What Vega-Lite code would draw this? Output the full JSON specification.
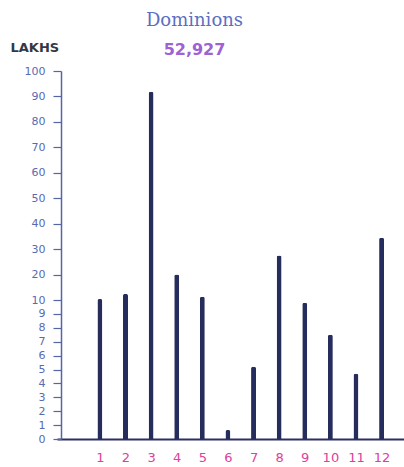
{
  "$schema": "https://vega.github.io/schema/vega-lite/v6.json",
  "autosize": "none",
  "width": 347,
  "height": 368,
  "padding": {"left": 57, "top": 71, "right": 0, "bottom": 28},
  "background": "#ffffff",
  "title": {
    "text": "Dominions",
    "subtitle": "52,927",
    "anchor": "middle",
    "dx": -36,
    "offset": -17,
    "font": "DejaVu Serif",
    "fontSize": 18,
    "fontWeight": "normal",
    "color": "#5b6fc2",
    "subtitleFont": "DejaVu Sans",
    "subtitleFontSize": 16,
    "subtitleFontWeight": "bold",
    "subtitleColor": "#9c62d6",
    "subtitlePadding": 12
  },
  "data": {
    "values": [
      {"n": 1, "v": 10.4},
      {"n": 2, "v": 12.4},
      {"n": 3, "v": 91.8},
      {"n": 4, "v": 20},
      {"n": 5, "v": 11.3},
      {"n": 6, "v": 0.65},
      {"n": 7, "v": 5.2},
      {"n": 8, "v": 27.5},
      {"n": 9, "v": 9.8},
      {"n": 10, "v": 7.5},
      {"n": 11, "v": 4.7},
      {"n": 12, "v": 34.5}
    ]
  },
  "mark": {"type": "bar", "width": 5, "color": "#262c5c", "cornerRadiusEnd": 2},
  "encoding": {
    "x": {
      "field": "n",
      "type": "quantitative",
      "scale": {"domain": [-0.48, 12.68], "nice": false, "zero": false},
      "axis": {
        "title": null,
        "values": [1,2,3,4,5,6,7,8,9,10,11,12],
        "format": "d",
        "ticks": false,
        "grid": false,
        "domainColor": "#2a3060",
        "domainWidth": 2,
        "labelColor": "#e0409c",
        "labelFontSize": 13,
        "labelFont": "DejaVu Sans",
        "labelPadding": 12
      }
    },
    "y": {
      "field": "v",
      "type": "quantitative",
      "scale": {"type": "linear", "domain": [0, 10, 100], "range": [368, 229, 0]},
      "axis": {
        "title": "LAKHS",
        "titleAngle": 0,
        "titleAlign": "left",
        "titleBaseline": "middle",
        "titleX": -51,
        "titleY": -24,
        "titleFont": "DejaVu Sans",
        "titleFontSize": 13,
        "titleFontWeight": "bold",
        "titleColor": "#333848",
        "values": [0,1,2,3,4,5,6,7,8,9,10,20,30,40,50,60,70,80,90,100],
        "offset": -4,
        "tickSize": 8,
        "tickColor": "#5565a5",
        "tickWidth": 1.2,
        "domainColor": "#5565a5",
        "domainWidth": 1.5,
        "grid": false,
        "labelColor": "#5a6ab2",
        "labelFont": "DejaVu Sans",
        "labelFontSize": 11,
        "labelPadding": 8
      }
    }
  },
  "config": {"view": {"stroke": null}}
}
